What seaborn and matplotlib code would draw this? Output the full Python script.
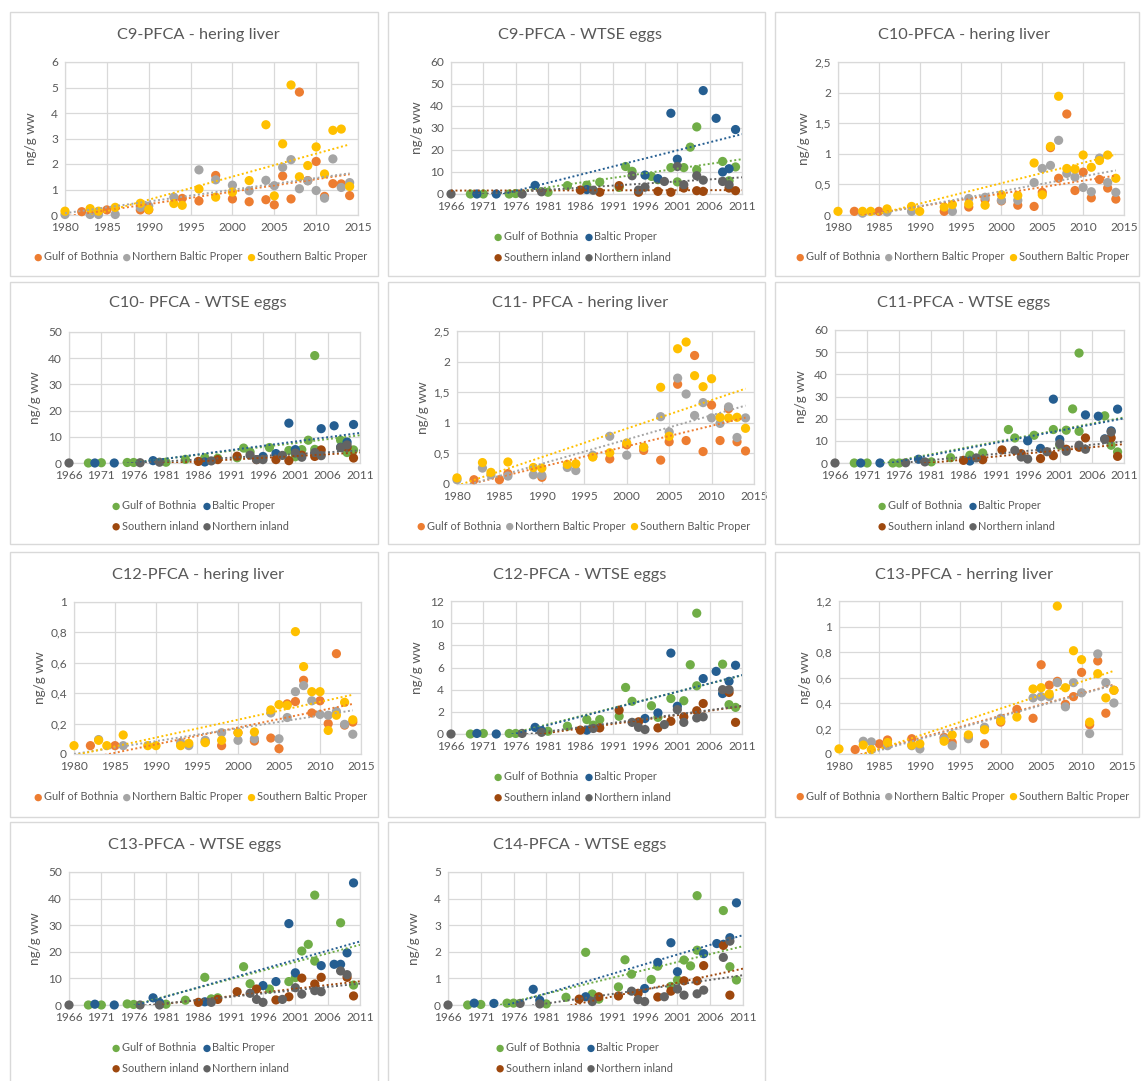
import numpy as np
import pandas as pd
import matplotlib
matplotlib.use('Agg')
import matplotlib.pyplot as plt
from matplotlib.patches import Rectangle
from matplotlib.ticker import FuncFormatter, MultipleLocator
import seaborn as sns

nan = np.nan

# ---- herring liver data (shared sampling years) ----
HL_YEARS = [1980, 1982, 1983, 1984, 1985, 1986, 1989, 1990, 1993, 1994, 1996, 1998, 2000,
            2002, 2004, 2005, 2006, 2007, 2008, 2009, 2010, 2011, 2012, 2013, 2014]
HL_SERIES = ['Gulf of Bothnia', 'Northern Baltic Proper', 'Southern Baltic Proper']
HL_COLORS = ['#ED7D31', '#A5A5A5', '#FFC000']

c9_hl_gob = [nan, 0.13, nan, nan, 0.2, nan, 0.2, 0.2, nan, 0.65, 0.55, 1.55, 0.63, 0.52, 0.6, 0.4, 1.53, 0.63, 4.82, 1.35, 2.1, 0.73, 1.23, 1.22, 0.76]
c9_hl_nbp = [0.02, nan, 0.02, 0.02, nan, 0.02, 0.3, 0.35, 0.7, nan, 1.77, 1.38, 1.17, 0.95, 1.36, 1.15, 1.87, 2.17, 1.03, 1.34, 0.96, 0.66, 2.2, 1.08, 1.27]
c9_hl_sbp = [0.15, nan, 0.25, 0.15, nan, 0.3, 0.46, 0.22, 0.45, 0.38, 1.02, 0.7, 0.9, 1.35, 3.54, 0.75, 2.79, 5.1, 1.5, 1.94, 2.67, 1.61, 3.32, 3.37, 1.12]

c10_hl_gob = [nan, 0.06, nan, nan, 0.06, nan, nan, nan, 0.06, nan, 0.13, 0.25, 0.23, 0.16, 0.14, 0.37, 1.1, 0.6, 1.65, 0.4, 0.7, 0.28, 0.58, 0.44, 0.26]
c10_hl_nbp = [nan, nan, 0.03, nan, nan, 0.05, 0.06, nan, nan, 0.06, 0.27, 0.29, 0.24, 0.24, 0.53, 0.76, 0.81, 1.22, 0.68, 0.62, 0.45, 0.38, 0.93, 0.53, 0.37]
c10_hl_sbp = [0.06, nan, 0.06, 0.06, nan, 0.1, 0.14, 0.06, 0.13, 0.17, 0.18, 0.16, 0.33, 0.32, 0.85, 0.33, 1.12, 1.94, 0.76, 0.75, 0.98, 0.78, 0.89, 0.98, 0.6]

c11_hl_gob = [nan, 0.07, nan, nan, 0.07, 0.17, nan, 0.11, nan, nan, 0.45, 0.41, 0.64, 0.55, 0.39, 0.69, 1.63, 0.71, 2.1, 0.53, 1.29, 0.71, 1.23, 0.69, 0.54]
c11_hl_nbp = [0.07, nan, 0.26, 0.15, nan, 0.13, 0.15, 0.14, 0.27, 0.22, 0.47, 0.78, 0.47, 0.6, 1.1, 0.85, 1.73, 1.47, 1.12, 1.33, 1.08, 0.99, 1.26, 0.76, 1.08]
c11_hl_sbp = [0.1, nan, 0.35, 0.19, nan, 0.36, 0.27, 0.26, 0.32, 0.33, 0.44, 0.51, 0.67, 0.6, 1.58, 0.78, 2.21, 2.32, 1.77, 1.59, 1.72, 1.09, 1.08, 1.09, 0.91]

c12_hl_gob = [nan, 0.055, nan, nan, 0.055, nan, nan, nan, nan, nan, 0.08, 0.055, 0.14, 0.085, 0.105, 0.035, 0.33, 0.345, 0.485, 0.27, 0.35, 0.2, 0.66, 0.19, 0.21]
c12_hl_nbp = [nan, nan, 0.095, nan, nan, 0.055, nan, nan, 0.075, 0.055, 0.09, 0.14, 0.09, 0.1, 0.27, 0.1, 0.24, 0.41, 0.45, 0.35, 0.26, 0.255, 0.28, 0.195, 0.13]
c12_hl_sbp = [0.055, nan, 0.09, 0.055, nan, 0.125, 0.055, 0.055, 0.055, 0.07, 0.075, 0.09, 0.14, 0.145, 0.29, 0.325, 0.32, 0.805, 0.575, 0.41, 0.41, 0.155, 0.255, 0.34, 0.225]

c13_hl_gob = [nan, 0.035, nan, nan, 0.08, 0.11, 0.12, nan, 0.13, 0.09, 0.13, 0.08, 0.25, 0.35, 0.28, 0.7, 0.54, 0.57, 0.39, 0.45, 0.64, 0.23, 0.73, 0.32, 0.5]
c13_hl_nbp = [nan, nan, 0.1, 0.095, nan, 0.065, 0.065, 0.04, 0.12, 0.065, 0.12, 0.21, 0.28, nan, 0.44, 0.45, 0.45, 0.56, 0.37, 0.56, 0.48, 0.16, 0.785, 0.56, 0.4]
c13_hl_sbp = [0.04, nan, 0.07, 0.035, nan, 0.09, 0.07, 0.08, 0.1, 0.15, 0.15, 0.19, 0.26, 0.29, 0.51, 0.52, 0.47, 1.16, 0.52, 0.81, 0.74, 0.25, 0.63, 0.44, 0.5]

# ---- WTSE eggs data (sampling years per region) ----
GOB_YEARS = [1969, 1971, 1975, 1976, 1981, 1984, 1987, 1988, 1989, 1992, 1993, 1994,
             1997, 1998, 2000, 2001, 2002, 2003, 2004, 2004, 2008, 2009, 2010]
BP_YEARS = [1970, 1973, 1979, 1980, 1987, 1996, 1998, 2000, 2001, 2005, 2007, 2008, 2009, 2010]
SI_YEARS = [1986, 1989, 1992, 1995, 1998, 2000, 2002, 2004, 2005, 2008, 2009, 2010]
NI_YEARS = [1966, 1977, 1980, 1988, 1994, 1995, 1996, 1999, 2001, 2002, 2004, 2005, 2008, 2009]
WTSE_SERIES = ['Gulf of Bothnia', 'Baltic Proper', 'Southern inland', 'Northern inland']
WTSE_COLORS = ['#70AD47', '#255E91', '#9E480E', '#636363']
WTSE_TICKS = [1966, 1971, 1976, 1981, 1986, 1991, 1996, 2001, 2006, 2011]

c9_eg_gob = [0, 0, 0, 0.2, 0.8, 3.8, 4, nan, 5.4, 3, 12.5, 10.3, 8, 6.5, 12, 5.5, 12, 21.3, 30.5, 11, 14.8, 6, 12.3]
c9_eg_bp = [0, 0, 3.9, nan, 2, 8.6, 7, 36.7, 15.8, 47, 34.4, 10, 11.5, 29.3]
c9_eg_si = [1.8, 0.8, 3.8, 0.8, 1.2, 0.8, 2.7, 1.5, 1.2, nan, 2.7, 1.5]
c9_eg_ni = [0, 0, 1, 1.7, 8.3, 1.8, 3.1, 5.7, 12.5, 4.2, 8.3, 6.3, 5.7, 4.2]

c10_eg_gob = [0, 0.1, 0.2, 0.2, 0.3, 1.4, 2, nan, 1.8, 2, 5.7, 4.2, 5.9, nan, 4.8, 2.4, 5.1, 8.7, 41, 5.2, 8.7, 4, 5]
c10_eg_bp = [0, 0, 0.9, nan, 0.4, 2.5, 3.6, 15.2, 5.1, 13.1, 14.2, 6, 8, 14.7]
c10_eg_si = [0.6, 1.3, 2.6, 1.3, 1.3, 0.9, 3, 2.5, 5, nan, 6, 1.9]
c10_eg_ni = [0, 0.1, 0.3, 0.8, 3, 1.3, 1.3, 2.9, 3.8, 2.2, 4, 2.8, 5.9, 6.9]

c11_eg_gob = [0, 0, 0, 0, 0.5, 2.4, 3.5, nan, 4.5, nan, 15.1, 11.3, 12.5, nan, 15.1, 8, 14.8, 24.4, 49.6, 14.3, 21.3, 8, 5]
c11_eg_bp = [0, 0, 1.7, nan, 0.9, 10, 6.6, 28.8, 10.6, 21.7, 21.1, 10.9, 14.5, 24.3]
c11_eg_si = [1.2, 1.5, 5.9, 4.2, 2, 3.3, 6.2, 7.1, 11.3, nan, 11.3, 3]
c11_eg_ni = [0, 0.1, 0.5, 2.3, 5.7, 2.7, 1.8, 5.1, 8.7, 5.3, 8, 6.2, 10.7, 14]

c12_eg_gob = [0, 0.05, 0.05, 0.05, 0.25, 0.7, 1.3, 0.8, 1.3, 1.6, 4.2, 2.95, 2.55, 1.5, 3.2, nan, 3, 6.25, 10.9, 4.35, 6.3, 2.65, 2.4]
c12_eg_bp = [0.05, 0, 0.6, 0.3, 0.35, 1.4, 1.9, 7.3, 2.5, 5, 5.65, 3.65, 4.75, 6.2]
c12_eg_si = [0.35, 0.55, 2.15, 1.1, 0.55, 1.15, 1.55, 2.1, 2.75, nan, 3.75, 1.05]
c12_eg_ni = [0, 0.05, 0.15, 0.5, 1.05, 0.6, 0.4, 0.85, 2.2, 1.05, 1.45, 1.55, 4, 4]

c13_eg_gob = [0, 0, 0.4, 0.2, 0.3, 1.8, 10.4, 2.3, 2.7, nan, 14.4, 8, 6, nan, 8.8, 10.3, 20.3, 22.8, 41.3, 16.5, 30.9, nan, 7.5]
c13_eg_bp = [0.3, 0, 2.7, 0.9, 1.2, 7.3, 8.8, 30.6, 12.1, 14.8, 15.3, 15.3, 19.6, 45.9]
c13_eg_si = [1, 2.1, 5, 6, 1.9, 3.1, 10.1, 7.9, 10.4, nan, 10.4, 3.4]
c13_eg_ni = [0, 0, 0, 1, 4.4, 2.1, 1, 2.1, 6.5, 4.1, 5.4, 5, 12.8, 11.4]

c14_eg_gob = [0, 0.02, 0.07, 0.07, 0.04, 0.29, 1.98, 0.41, 0.22, 0.68, 1.7, 1.16, 0.96, 1.46, 0.7, 0.94, 1.69, 1.47, 4.11, 2.06, 3.55, 1.44, 0.94]
c14_eg_bp = [0.07, 0.06, 0.59, 0.18, 0.31, 0.62, 1.6, 2.34, 1.25, 1.93, 2.31, 2.28, 2.53, 3.84]
c14_eg_si = [0.22, 0.31, 0.34, 0.44, 0.3, 0.52, 0.91, 0.91, 1.48, 2.24, 0.37, nan]
c14_eg_ni = [0, 0.06, 0.04, 0.13, 0.52, 0.2, 0.13, 0.31, 0.6, 0.37, 0.42, 0.56, 1.79, 2.4]

TEXT = '#595959'
GRID = '#D9D9D9'

sns.set_theme(style='white')
plt.rcParams['font.family'] = ['Lato', 'DejaVu Sans']

W, H = 1141, 1081
fig = plt.figure(figsize=(W / 100, H / 100), dpi=100)


def fx(px):
    return px / W


def fy(py):
    return 1 - py / H


def comma(v, pos):
    return ('%g' % round(v, 3)).replace('.', ',')


# card columns / rows in pixels
cols = [(10, 378), (388, 765), (775, 1139)]
rows = [(12, 276), (282, 544), (552, 817), (822, 1090)]

panels = [
    ('C9-PFCA - hering liver', 'hl', [c9_hl_gob, c9_hl_nbp, c9_hl_sbp], 6, 1, (65, 62, 358, 215), (0, 0), (198, 35), (200, 257)),
    ('C9-PFCA - WTSE eggs', 'eg', [c9_eg_gob, c9_eg_bp, c9_eg_si, c9_eg_ni], 60, 10, (451, 62, 742, 194), (0, 1), (580, 35), (582, 247)),
    ('C10-PFCA - hering liver', 'hl', [c10_hl_gob, c10_hl_nbp, c10_hl_sbp], 2.5, 0.5, (838, 62, 1124, 215), (0, 2), (964, 35), (962, 257)),
    ('C10- PFCA - WTSE eggs', 'eg', [c10_eg_gob, c10_eg_bp, c10_eg_si, c10_eg_ni], 50, 10, (69, 332, 360, 463), (1, 0), (198, 303), (200, 516)),
    ('C11- PFCA - hering liver', 'hl', [c11_hl_gob, c11_hl_nbp, c11_hl_sbp], 2.5, 0.5, (457, 331, 754, 484), (1, 1), (580, 303), (583, 526)),
    ('C11-PFCA - WTSE eggs', 'eg', [c11_eg_gob, c11_eg_bp, c11_eg_si, c11_eg_ni], 60, 10, (835, 330, 1124, 463), (1, 2), (964, 303), (966, 516)),
    ('C12-PFCA - hering liver', 'hl', [c12_hl_gob, c12_hl_nbp, c12_hl_sbp], 1, 0.2, (74, 602, 361, 754), (2, 0), (198, 575), (200, 797)),
    ('C12-PFCA - WTSE eggs', 'eg', [c12_eg_gob, c12_eg_bp, c12_eg_si, c12_eg_ni], 12, 2, (451, 601, 742, 734), (2, 1), (580, 575), (582, 787)),
    ('C13-PFCA - herring liver', 'hl', [c13_hl_gob, c13_hl_nbp, c13_hl_sbp], 1.2, 0.2, (839, 601, 1122, 754), (2, 2), (964, 575), (962, 796)),
    ('C13-PFCA - WTSE eggs', 'eg', [c13_eg_gob, c13_eg_bp, c13_eg_si, c13_eg_ni], 50, 10, (69, 872, 360, 1005), (3, 0), (195, 845), (200, 1058)),
    ('C14-PFCA - WTSE eggs', 'eg', [c14_eg_gob, c14_eg_bp, c14_eg_si, c14_eg_ni], 5, 1, (448, 872, 743, 1005), (3, 1), (580, 845), (584, 1058)),
]

for title, kind, data, ymax, ystep, box, (r, c), tpos, lpos in panels:
    # card border
    x0, x1 = cols[c]
    y0, y1 = rows[r]
    fig.patches.append(Rectangle((fx(x0), fy(y1)), fx(x1 - x0), (y1 - y0) / H,
                                 transform=fig.transFigure, fill=False,
                                 edgecolor=GRID, lw=1.0))
    l, t, rr, b = box
    ax = fig.add_axes([fx(l), fy(b), fx(rr - l), (b - t) / H])

    if kind == 'hl':
        names, colors = HL_SERIES, HL_COLORS
        years = [HL_YEARS] * 3
        xlim, xticks, fit_range, ncol = (1980, 2015), list(range(1980, 2016, 5)), (1980, 2014), 3
    else:
        names, colors = WTSE_SERIES, WTSE_COLORS
        years = [GOB_YEARS, BP_YEARS, SI_YEARS, NI_YEARS]
        xlim, xticks, fit_range, ncol = (1966, 2011), WTSE_TICKS, (1966, 2011), 2

    frames = []
    for name, color, yrs, vals in zip(names, colors, years, data):
        df = pd.DataFrame({'year': yrs, 'value': vals}).dropna()
        frames.append(df)
        sns.scatterplot(data=df, x='year', y='value', color=color, s=44,
                        edgecolor='none', linewidth=0, label=name, ax=ax,
                        clip_on=False, zorder=3)
    for color, df in zip(colors, frames):
        k, m = np.polyfit(df['year'], df['value'], 1)
        xs = np.array(fit_range, dtype=float)
        ax.plot(xs, k * xs + m, color=color, lw=1.4, ls=(0, (1, 1.3)), zorder=4)

    ax.set_xlim(*xlim)
    ax.set_ylim(0, ymax)
    ax.set_xticks(xticks)
    ax.yaxis.set_major_locator(MultipleLocator(ystep))
    ax.yaxis.set_major_formatter(FuncFormatter(comma))
    ax.xaxis.set_major_formatter(FuncFormatter(lambda v, p: '%d' % v))
    ax.grid(True, color=GRID, lw=0.9)
    ax.set_axisbelow(True)
    for sp in ax.spines.values():
        sp.set_color(GRID)
        sp.set_linewidth(0.9)
    ax.tick_params(length=0, labelsize=8.6, colors=TEXT, pad=5)
    ax.set_xlabel('')
    ax.set_ylabel('ng/g ww', fontsize=9.8, color=TEXT)
    ax.yaxis.set_label_coords(-28 / (rr - l), 0.5)

    handles, labels = ax.get_legend_handles_labels()
    if kind == 'eg':
        # two rows: Gulf of Bothnia / Baltic Proper on top, inland below
        order = [0, 2, 1, 3]
        handles = [handles[i] for i in order]
        labels = [labels[i] for i in order]
    leg = ax.legend(handles, labels, loc='center',
                    bbox_to_anchor=(fx(lpos[0]), fy(lpos[1])),
                    bbox_transform=fig.transFigure, ncol=ncol, frameon=False,
                    fontsize=7.9, handletextpad=0.0, columnspacing=0.3,
                    labelspacing=0.85, borderpad=0, handlelength=1.0,
                    markerscale=0.8)
    for txt in leg.get_texts():
        txt.set_color(TEXT)

    fig.text(fx(tpos[0]), fy(tpos[1]), title, ha='center', va='center',
             fontsize=11.8, color=TEXT)

fig.savefig('out.png', dpi=100, facecolor='white')
